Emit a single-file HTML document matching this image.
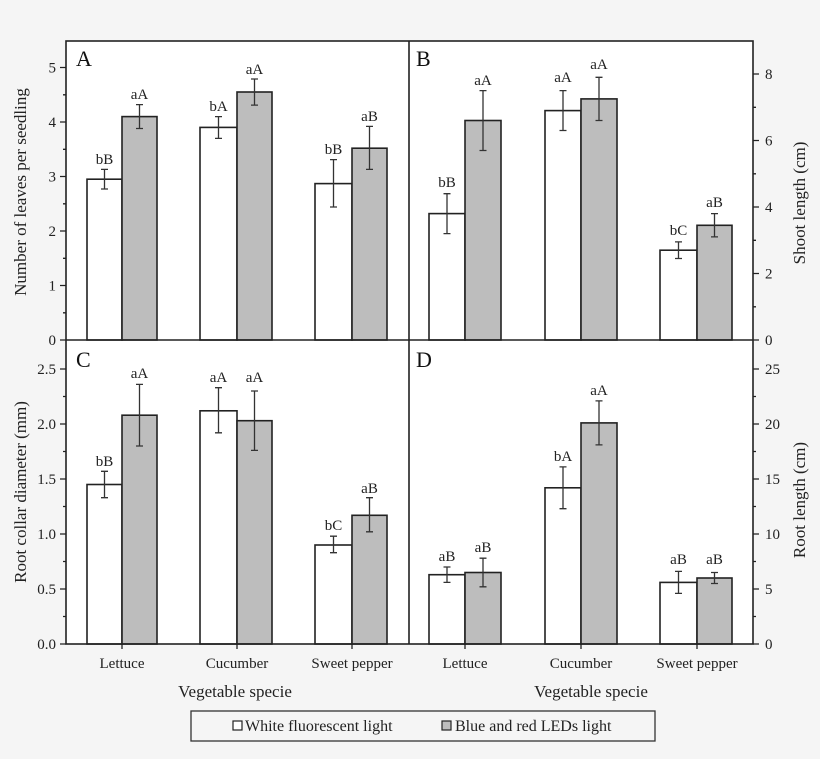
<!DOCTYPE html>
<html><head><meta charset="utf-8"><style>
html,body{margin:0;padding:0;background:#f5f5f5;}
svg{display:block;font-family:"Liberation Serif",serif;}
</style></head><body>
<svg width="820" height="759" viewBox="0 0 820 759" xmlns="http://www.w3.org/2000/svg">
<rect x="0" y="0" width="820" height="759" fill="#f5f5f5"/>
<rect x="66" y="41" width="687" height="603" fill="#fff"/>
<g stroke="#222" stroke-width="1.6">
<!-- A bars -->
<rect x="87" y="179.2" width="35" height="160.8" fill="#fff"/>
<rect x="122" y="116.6" width="35" height="223.4" fill="#bdbdbd"/>
<rect x="200" y="127.4" width="37" height="212.6" fill="#fff"/>
<rect x="237" y="92" width="35" height="248" fill="#bdbdbd"/>
<rect x="315" y="183.6" width="37" height="156.4" fill="#fff"/>
<rect x="352" y="148.2" width="35" height="191.8" fill="#bdbdbd"/>
<!-- B bars -->
<rect x="429" y="213.6" width="36" height="126.4" fill="#fff"/>
<rect x="465" y="120.5" width="36" height="219.5" fill="#bdbdbd"/>
<rect x="545" y="110.6" width="36" height="229.4" fill="#fff"/>
<rect x="581" y="98.9" width="36" height="241.1" fill="#bdbdbd"/>
<rect x="660" y="250.2" width="37" height="89.8" fill="#fff"/>
<rect x="697" y="225.3" width="35" height="114.7" fill="#bdbdbd"/>
<!-- C bars -->
<rect x="87" y="484.5" width="35" height="159.5" fill="#fff"/>
<rect x="122" y="415.2" width="35" height="228.8" fill="#bdbdbd"/>
<rect x="200" y="410.8" width="37" height="233.2" fill="#fff"/>
<rect x="237" y="420.7" width="35" height="223.3" fill="#bdbdbd"/>
<rect x="315" y="545" width="37" height="99" fill="#fff"/>
<rect x="352" y="515.3" width="35" height="128.7" fill="#bdbdbd"/>
<!-- D bars -->
<rect x="429" y="574.7" width="36" height="69.3" fill="#fff"/>
<rect x="465" y="572.5" width="36" height="71.5" fill="#bdbdbd"/>
<rect x="545" y="487.8" width="36" height="156.2" fill="#fff"/>
<rect x="581" y="422.9" width="36" height="221.1" fill="#bdbdbd"/>
<rect x="660" y="582.4" width="37" height="61.6" fill="#fff"/>
<rect x="697" y="578" width="35" height="66" fill="#bdbdbd"/>
</g>
<g stroke="#333" stroke-width="1.3" fill="none">
<path d="M104.5 189V169.4M101 189h7M101 169.4h7"/>
<path d="M139.5 128.5V104.6M136 128.5h7M136 104.6h7"/>
<path d="M218.5 138.4V116.6M215 138.4h7M215 116.6h7"/>
<path d="M254.5 105.1V79M251 105.1h7M251 79h7"/>
<path d="M333.5 207V159.6M330 207h7M330 159.6h7"/>
<path d="M369.5 169.4V126.4M366 169.4h7M366 126.4h7"/>
<path d="M447 233.6V193.7M443.5 233.6h7M443.5 193.7h7"/>
<path d="M483 150.5V90.6M479.5 150.5h7M479.5 90.6h7"/>
<path d="M563 130.5V90.6M559.5 130.5h7M559.5 90.6h7"/>
<path d="M599 120.5V77.3M595.5 120.5h7M595.5 77.3h7"/>
<path d="M678.5 258.5V241.9M675 258.5h7M675 241.9h7"/>
<path d="M714.5 236.9V213.6M711 236.9h7M711 213.6h7"/>
<path d="M104.5 497.7V471.3M101 497.7h7M101 471.3h7"/>
<path d="M139.5 446V384.4M136 446h7M136 384.4h7"/>
<path d="M218.5 432.8V387.7M215 432.8h7M215 387.7h7"/>
<path d="M254.5 450.4V391M251 450.4h7M251 391h7"/>
<path d="M333.5 552.7V536.2M330 552.7h7M330 536.2h7"/>
<path d="M369.5 531.8V497.7M366 531.8h7M366 497.7h7"/>
<path d="M447 582.4V567M443.5 582.4h7M443.5 567h7"/>
<path d="M483 586.8V558.2M479.5 586.8h7M479.5 558.2h7"/>
<path d="M563 508.7V466.9M559.5 508.7h7M559.5 466.9h7"/>
<path d="M599 444.9V400.9M595.5 444.9h7M595.5 400.9h7"/>
<path d="M678.5 593.4V571.4M675 593.4h7M675 571.4h7"/>
<path d="M714.5 583.5V572.5M711 583.5h7M711 572.5h7"/>
</g>
<!-- frame -->
<g stroke="#222" stroke-width="1.6" fill="none">
<rect x="66" y="41" width="687" height="603"/>
<path d="M409 41V644M66 340H753"/>
</g>
<!-- ticks -->
<g stroke="#222" stroke-width="1.3">
<path d="M60 340h6M60 285.5h6M60 231h6M60 176.5h6M60 122h6M60 67.5h6M63 312.8h3M63 258.3h3M63 203.8h3M63 149.3h3M63 94.8h3"/>
<path d="M753 340h6M753 273.5h6M753 207h6M753 140.5h6M753 74h6M753 306.8h3M753 240.3h3M753 173.8h3M753 107.3h3"/>
<path d="M60 644h6M60 589h6M60 534h6M60 479h6M60 424h6M60 369h6M63 616.5h3M63 561.5h3M63 506.5h3M63 451.5h3M63 396.5h3"/>
<path d="M753 644h6M753 589h6M753 534h6M753 479h6M753 424h6M753 369h6M753 616.5h3M753 561.5h3M753 506.5h3M753 451.5h3M753 396.5h3"/>
<path d="M122 644v5M237 644v5M352 644v5M465 644v5M581 644v5M697 644v5"/>
</g>
<g font-size="15" fill="#222" text-anchor="end">
<text x="56" y="345">0</text><text x="56" y="290.5">1</text><text x="56" y="236">2</text><text x="56" y="181.5">3</text><text x="56" y="127">4</text><text x="56" y="72.5">5</text>
<text x="56" y="649">0.0</text><text x="56" y="594">0.5</text><text x="56" y="539">1.0</text><text x="56" y="484">1.5</text><text x="56" y="429">2.0</text><text x="56" y="374">2.5</text>
</g>
<g font-size="15" fill="#222" text-anchor="start">
<text x="765" y="345">0</text><text x="765" y="278.5">2</text><text x="765" y="212">4</text><text x="765" y="145.5">6</text><text x="765" y="79">8</text>
<text x="765" y="649">0</text><text x="765" y="594">5</text><text x="765" y="539">10</text><text x="765" y="484">15</text><text x="765" y="429">20</text><text x="765" y="374">25</text>
</g>
<g font-size="22" fill="#111">
<text x="76" y="66">A</text><text x="416" y="66">B</text><text x="76" y="367">C</text><text x="416" y="367">D</text>
</g>
<g font-size="15" fill="#222" text-anchor="middle">
<text x="104.5" y="164">bB</text><text x="139.5" y="99">aA</text>
<text x="218.5" y="111">bA</text><text x="254.5" y="74">aA</text>
<text x="333.5" y="154">bB</text><text x="369.5" y="121">aB</text>
<text x="447" y="187">bB</text><text x="483" y="85">aA</text>
<text x="563" y="82">aA</text><text x="599" y="69">aA</text>
<text x="678.5" y="235">bC</text><text x="714.5" y="207">aB</text>
<text x="104.5" y="466">bB</text><text x="139.5" y="378">aA</text>
<text x="218.5" y="382">aA</text><text x="254.5" y="382">aA</text>
<text x="333.5" y="530">bC</text><text x="369.5" y="493">aB</text>
<text x="447" y="561">aB</text><text x="483" y="552">aB</text>
<text x="563" y="461">bA</text><text x="599" y="395">aA</text>
<text x="678.5" y="564">aB</text><text x="714.5" y="564">aB</text>
<text x="122" y="668">Lettuce</text><text x="237" y="668">Cucumber</text><text x="352" y="668">Sweet pepper</text>
<text x="465" y="668">Lettuce</text><text x="581" y="668">Cucumber</text><text x="697" y="668">Sweet pepper</text>
</g>
<g font-size="17" fill="#222" text-anchor="middle">
<text x="235" y="697">Vegetable  specie</text><text x="591" y="697">Vegetable  specie</text>
<text transform="translate(26,192) rotate(-90)">Number of leaves per seedling</text>
<text transform="translate(26,492) rotate(-90)">Root collar diameter (mm)</text>
<text transform="translate(805,203) rotate(-90)">Shoot length (cm)</text>
<text transform="translate(805,500) rotate(-90)">Root length (cm)</text>
</g>
<rect x="191" y="711" width="464" height="30" fill="#f5f5f5" stroke="#333" stroke-width="1.3"/>
<rect x="233" y="721" width="9" height="9" fill="#fff" stroke="#222" stroke-width="1.2"/>
<rect x="442" y="721" width="9" height="9" fill="#bdbdbd" stroke="#222" stroke-width="1.2"/>
<g font-size="16" fill="#222">
<text x="245" y="731">White fluorescent light</text>
<text x="455" y="731">Blue and red LEDs light</text>
</g>
</svg>
</body></html>
